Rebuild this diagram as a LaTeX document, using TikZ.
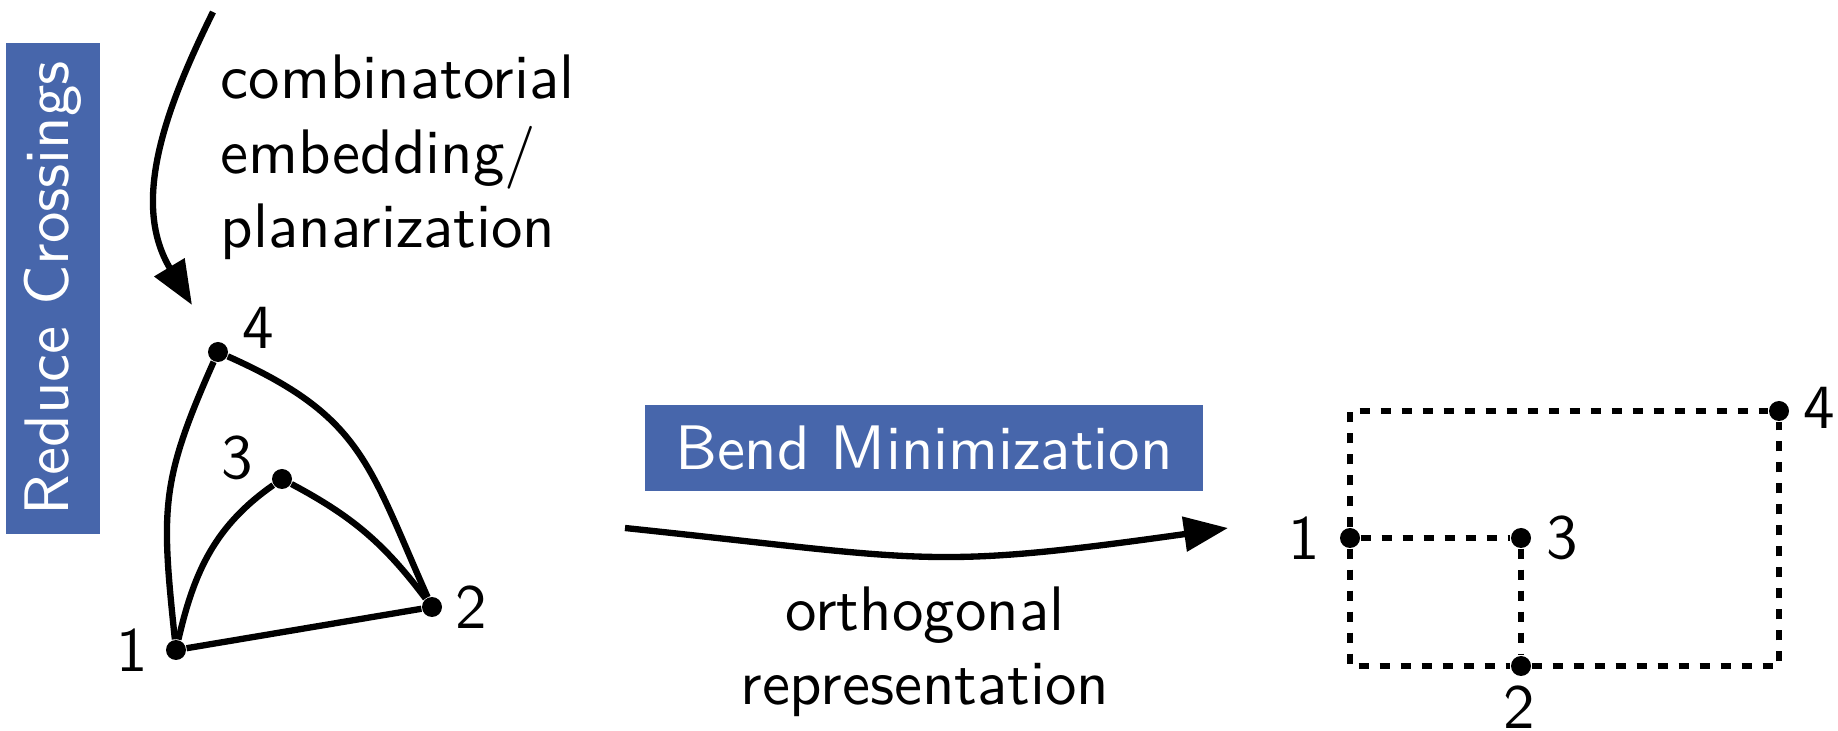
\documentclass[tikz,border=0pt]{standalone}
\usepackage{fontspec}
\newfontfamily\diagfont{lmsans10-regular.otf}
\usetikzlibrary{arrows.meta}
\definecolor{boxblue}{RGB}{71,102,171}

\begin{document}
\begin{tikzpicture}[
  font=\fontsize{17.9pt}{21.3pt}\diagfont,
  vertex/.style={circle,fill=black,inner sep=0pt,minimum size=0.2cm},
  bluebox/.style={fill=boxblue,text=white,inner sep=0pt},
  edge/.style={line width=1.8pt},
  dashededge/.style={line width=1.8pt,dash pattern=on 1.0mm off 1.1mm},
  bigarrow/.style={line width=1.8pt,-{Triangle[length=4.4mm,width=3.4mm]}},
  num/.style={inner sep=0pt}
]
\useasboundingbox (0,0) rectangle (18.38,-7.31);

% step boxes
\node[bluebox,rotate=90,minimum width=4.91cm,minimum height=0.94cm] (reduce) at (0.53,-2.885) {Reduce Crossings};
\node[bluebox,minimum width=5.58cm,minimum height=0.86cm] (bend) at (9.24,-4.48) {Bend Minimization};

% step texts (base = last line)
\node[anchor=base west,align=left,inner sep=0pt] (embtext) at (2.20,-2.48) {combinatorial\\embedding/\\planarization};
\node[anchor=base,align=center,inner sep=0pt] (orthtext) at (9.25,-7.05) {orthogonal\\representation};

% arrows
\coordinate (embtop) at (2.13,-0.12);
\coordinate (embtip) at (1.92,-3.05);
\draw[bigarrow] (embtop) .. controls (1.62,-1.15) and (1.32,-2.05) .. (embtip);
\coordinate (orthstart) at (6.25,-5.28);
\coordinate (orthtip) at (12.28,-5.28);
\draw[bigarrow] (orthstart) to[out=-6,in=188,looseness=1.3] (orthtip);

% planar embedding
\node[vertex,label={[num,xshift=-4.4mm,yshift=0mm]center:1}] (v1) at (1.76,-6.50) {};
\node[vertex,label={[num,xshift=3.9mm,yshift=0mm]center:2}] (v2) at (4.32,-6.07) {};
\node[vertex,label={[num,xshift=-4.5mm,yshift=2.1mm]center:3}] (v3) at (2.82,-4.79) {};
\node[vertex,label={[num,xshift=4.0mm,yshift=2.4mm]center:4}] (v4) at (2.18,-3.52) {};
\draw[edge] (v1) -- (v2);
\draw[edge] (v1) to[out=96,in=246,looseness=1.2] (v4);
\draw[edge] (v4) to[out=-24,in=114,looseness=1.2] (v2);
\draw[edge] (v1) to[out=77,in=215] (v3);
\draw[edge] (v3) to[out=-28,in=127] (v2);

% orthogonal drawing
\node[vertex,label={[num,xshift=-4.6mm,yshift=0mm]center:1}] (w1) at (13.50,-5.38) {};
\node[vertex,label={[num,xshift=-0.2mm,yshift=-4.1mm]center:2}] (w2) at (15.21,-6.66) {};
\node[vertex,label={[num,xshift=4.1mm,yshift=0mm]center:3}] (w3) at (15.21,-5.38) {};
\node[vertex,label={[num,xshift=4.0mm,yshift=0.3mm]center:4}] (w4) at (17.79,-4.11) {};
\draw[dashededge] (w1) |- (w4);
\draw[dashededge] (w1) -- (w3);
\draw[dashededge] (w3) -- (w2);
\draw[dashededge] (w1) |- (w2);
\draw[dashededge] (w2) -| (w4);
\end{tikzpicture}
\end{document}
